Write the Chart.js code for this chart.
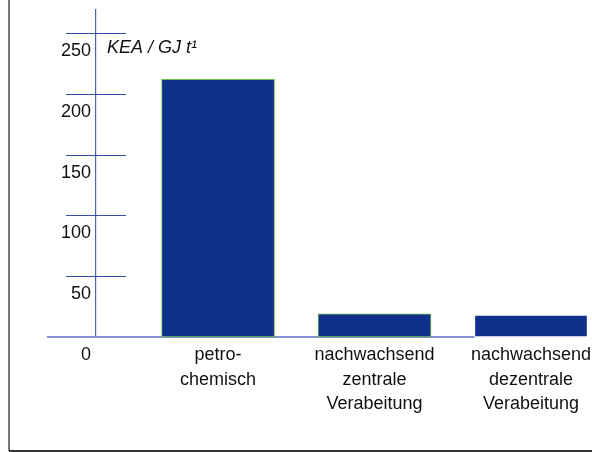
<!DOCTYPE html>
<html>
<head>
<meta charset="utf-8">
<script src="https://cdn.jsdelivr.net/npm/chart.js@4"></script>
<style>
  body { margin: 0; background: #fff; }
</style>
</head>
<body>
<canvas id="chart" width="592" height="452"></canvas>
<script>
// Daten
const categories = [
    ['petro-', 'chemisch'],
    ['nachwachsend', 'zentrale', 'Verabeitung'],
    ['nachwachsend', 'dezentrale', 'Verabeitung']
];
const values = [212, 19, 18];
const yTicks = [0, 50, 100, 150, 200, 250];
const unitLabel = 'KEA / GJ t\u00B9';

const fontFamily = "'Liberation Sans', Arial, sans-serif";

// Rahmen, kurze Gitterlinien, x-Achsenlinie und Einheit
const decor = {
    id: 'decor',
    beforeDatasetsDraw(chart) {
        const ctx = chart.ctx;
        const y = chart.scales.y;
        const area = chart.chartArea;
        ctx.save();
        // Grundlinie
        const bar3 = chart.getDatasetMeta(0).data[2];
        ctx.strokeStyle = '#8494d2';
        ctx.lineWidth = 2;
        ctx.beginPath();
        ctx.moveTo(47, y.getPixelForValue(0));
        ctx.lineTo(bar3.x - bar3.width / 2, y.getPixelForValue(0));
        ctx.stroke();
        // kurze Gitterlinien
        ctx.strokeStyle = '#3350a8';
        ctx.lineWidth = 1.2;
        yTicks.forEach(v => {
            if (v === 0) return;
            const py = Math.round(y.getPixelForValue(v)) + 0.5;
            ctx.beginPath();
            ctx.moveTo(area.left - 30, py);
            ctx.lineTo(area.left + 30, py);
            ctx.stroke();
        });
        ctx.restore();
    },
    afterDraw(chart) {
        const ctx = chart.ctx;
        const y = chart.scales.y;
        ctx.save();
        // Rahmen
        ctx.strokeStyle = '#777';
        ctx.lineWidth = 2;
        ctx.beginPath();
        ctx.moveTo(9, 0);
        ctx.lineTo(9, 451);
        ctx.stroke();
        ctx.strokeStyle = '#333';
        ctx.beginPath();
        ctx.moveTo(9, 451);
        ctx.lineTo(chart.width, 451);
        ctx.stroke();
        // Einheit
        ctx.fillStyle = '#111';
        ctx.font = 'italic 18px ' + fontFamily;
        ctx.textBaseline = 'middle';
        ctx.textAlign = 'left';
        ctx.fillText(unitLabel, chart.chartArea.left + 11, y.getPixelForValue(250) + 15);
        ctx.restore();
    }
};

const ctx = document.getElementById('chart').getContext('2d');
const chart = new Chart(ctx, {
    type: 'bar',
    data: {
        datasets: [{
            data: values.map((v, i) => ({ x: i, y: v })),
            backgroundColor: '#10308c',
            borderColor: ['#6cc04a', '#6cc04a', 'rgba(0,0,0,0)'],
            borderWidth: 1,
            borderSkipped: false,
            barThickness: 113
        }]
    },
    options: {
        responsive: false,
        animation: false,
        layout: { padding: { top: 10, left: 0, right: 0, bottom: 0 } },
        plugins: {
            legend: { display: false },
            tooltip: { enabled: false }
        },
        scales: {
            x: {
                type: 'linear',
                offset: false,
                min: -0.78,
                max: 2.39,
                afterBuildTicks: s => { s.ticks = categories.map((c, i) => ({ value: i })); },
                afterFit: s => { s.height = 115; s.paddingLeft = 0; s.paddingRight = 0; },
                grid: { display: false, drawTicks: false, offset: false },
                border: { display: false },
                ticks: {
                    padding: 6,
                    maxRotation: 0,
                    autoSkip: false,
                    color: '#111',
                    font: { family: fontFamily, size: 18, lineHeight: 1.36 },
                    callback: v => categories[v]
                }
            },
            y: {
                min: 0,
                max: 269,
                afterBuildTicks: s => { s.ticks = yTicks.map(v => ({ value: v })); },
                afterFit: s => { s.width = 96; s.paddingTop = 0; s.paddingBottom = 0; },
                grid: { display: false, drawTicks: false },
                border: { display: true, color: '#4a63b5', width: 1.2 },
                ticks: {
                    padding: 5,
                    labelOffset: 18,
                    color: '#111',
                    font: { family: fontFamily, size: 18 }
                }
            }
        }
    },
    plugins: [decor]
});
</script>
</body>
</html>
